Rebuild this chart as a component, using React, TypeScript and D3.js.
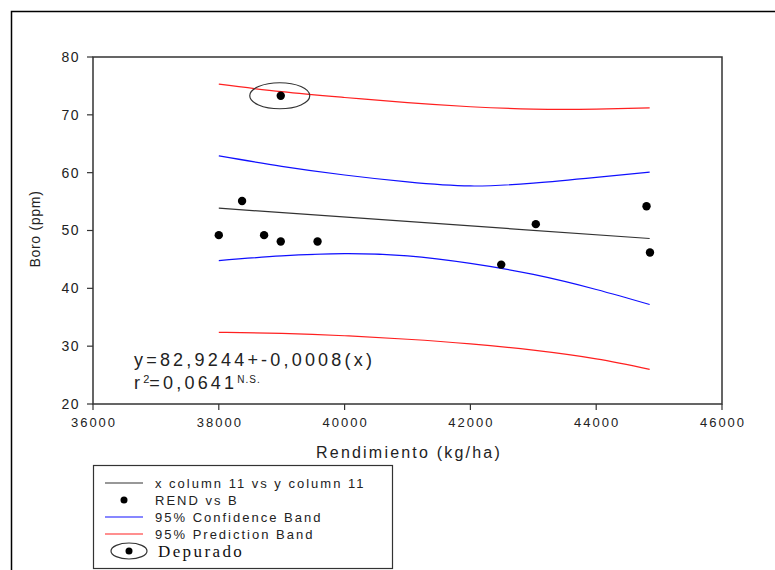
import React from "react";
import * as d3 from "d3";

// Observed yield (kg/ha) and boron (ppm)
const rend = [38000, 38370, 38720, 38985, 39570, 42490, 43040, 44800, 44855];
const boro = [49.2, 55.1, 49.2, 48.1, 48.1, 44.1, 51.1, 54.2, 46.2];

// Point removed from the fit ("Depurado")
const depuradoX = 38985;
const depuradoY = 73.3;

// Fitted line: y = a + b x
const intercept = 82.9244;
const slope = -0.000765;
const fitRange = [38000, 44850];

// Band curves sampled along x
const bandX = [38000, 39000, 40000, 41000, 42000, 43000, 44000, 44850];
const confUpper = [62.9, 61.1, 59.6, 58.4, 57.7, 58.2, 59.2, 60.1];
const confLower = [44.8, 45.6, 46.0, 45.6, 44.3, 42.4, 39.8, 37.2];
const predUpper = [75.3, 74.0, 73.0, 72.1, 71.4, 71.0, 71.0, 71.2];
const predLower = [32.4, 32.2, 31.8, 31.2, 30.4, 29.3, 27.8, 26.0];

const xTicks = [36000, 38000, 40000, 42000, 44000, 46000];
const yTicks = [20, 30, 40, 50, 60, 70, 80];

const legendItems = [
  "x column 11 vs y column 11",
  "REND vs B",
  "95% Confidence Band",
  "95% Prediction Band",
];

export default function App() {
  const left = 93, right = 722, top = 57, bottom = 404;
  const x = d3.scaleLinear().domain([36000, 46000]).range([left, right]);
  const y = d3.scaleLinear().domain([20, 80]).range([bottom, top]);

  const bandLine = (vals: number[]) =>
    d3
      .line<number>()
      .x((_, i) => x(bandX[i]))
      .y((v) => y(v))
      .curve(d3.curveNatural)(vals) as string;

  const fitPath = d3
    .line<number>()
    .x((v) => x(v))
    .y((v) => y(intercept + slope * v))(fitRange) as string;

  const font = "Arial, 'Liberation Sans', sans-serif";
  const red = "#ff2020";
  const blue = "#1010ff";

  const legX = 93, legY = 465;
  const rowY = [483, 500, 517, 534];

  return (
    <svg
      width={775}
      height={570}
      style={{ position: "absolute", left: 0, top: 0, background: "#fff" }}
      fontFamily={font}
    >
      {/* outer frame */}
      <path d="M11.5,575 V11.5 H780" fill="none" stroke="#000" strokeWidth={1.5} />

      {/* plot frame */}
      <rect
        x={left}
        y={top}
        width={right - left}
        height={bottom - top}
        fill="none"
        stroke="#333"
        strokeWidth={1.5}
      />

      {/* y axis */}
      {yTicks.map((t) => (
        <g key={"y" + t}>
          <line x1={left - 6} x2={left} y1={y(t)} y2={y(t)} stroke="#333" strokeWidth={1.2} />
          <text
            x={left - 13}
            y={y(t)}
            dy="0.35em"
            textAnchor="end"
            fontSize={14}
            letterSpacing={1.5}
            fill="#222"
          >
            {t}
          </text>
        </g>
      ))}

      {/* x axis */}
      {xTicks.map((t) => (
        <g key={"x" + t}>
          <line x1={x(t)} x2={x(t)} y1={bottom} y2={bottom + 6} stroke="#333" strokeWidth={1.2} />
          <text
            x={x(t) + 1}
            y={bottom + 23}
            textAnchor="middle"
            fontSize={13}
            letterSpacing={2}
            fill="#222"
          >
            {t}
          </text>
        </g>
      ))}

      <text
        transform={`translate(${40},${229}) rotate(-90)`}
        textAnchor="middle"
        fontSize={14}
        letterSpacing={0.7}
        fill="#222"
      >
        Boro (ppm)
      </text>
      <text
        x={409}
        y={458}
        textAnchor="middle"
        fontSize={16}
        letterSpacing={2.2}
        fill="#222"
      >
        Rendimiento (kg/ha)
      </text>

      {/* bands */}
      <path d={bandLine(predUpper)} fill="none" stroke={red} strokeWidth={1.2} />
      <path d={bandLine(predLower)} fill="none" stroke={red} strokeWidth={1.2} />
      <path d={bandLine(confUpper)} fill="none" stroke={blue} strokeWidth={1.2} />
      <path d={bandLine(confLower)} fill="none" stroke={blue} strokeWidth={1.2} />
      <path d={fitPath} fill="none" stroke="#333" strokeWidth={1.2} />

      {/* observations */}
      {rend.map((r, i) => (
        <circle key={i} cx={x(r)} cy={y(boro[i])} r={4.2} fill="#000" />
      ))}
      <circle cx={x(depuradoX)} cy={y(depuradoY)} r={4.2} fill="#000" />
      <ellipse
        cx={x(depuradoX) - 1}
        cy={y(depuradoY)}
        rx={30}
        ry={13}
        fill="none"
        stroke="#333"
        strokeWidth={1.2}
      />

      {/* equation */}
      <text x={134} y={366} fontSize={18} letterSpacing={3.2} fill="#222">
        y=82,9244+-0,0008(x)
      </text>
      <text x={134} y={389} fontSize={18} letterSpacing={3.2} fill="#222">
        r<tspan dy={-6} fontSize={11} letterSpacing={0}>2</tspan>
        <tspan dy={6}>=0,0641</tspan>
        <tspan dy={-6} fontSize={10} letterSpacing={1}>N.S.</tspan>
      </text>

      {/* legend */}
      <rect
        x={legX + 0.5}
        y={legY + 0.5}
        width={299}
        height={103}
        fill="#fff"
        stroke="#333"
        strokeWidth={1.2}
      />
      <line x1={105} x2={143} y1={rowY[0]} y2={rowY[0]} stroke="#333" strokeWidth={1.2} />
      <circle cx={124} cy={rowY[1]} r={3.5} fill="#000" />
      <line x1={105} x2={143} y1={rowY[2]} y2={rowY[2]} stroke={blue} strokeWidth={1.2} />
      <line x1={105} x2={143} y1={rowY[3]} y2={rowY[3]} stroke={red} strokeWidth={1.2} />
      {legendItems.map((s, i) => (
        <text
          key={s}
          x={155}
          y={rowY[i]}
          dy="0.36em"
          fontSize={13}
          letterSpacing={2}
          fill="#222"
        >
          {s}
        </text>
      ))}
      <ellipse cx={129} cy={551} rx={18} ry={8} fill="none" stroke="#333" strokeWidth={1.2} />
      <circle cx={129} cy={551} r={3.5} fill="#000" />
      <text
        x={158}
        y={551}
        dy="0.35em"
        fontSize={17}
        letterSpacing={2.4}
        fontFamily="'Liberation Serif', 'Times New Roman', serif"
        fill="#111"
      >
        Depurado
      </text>
    </svg>
  );
}
